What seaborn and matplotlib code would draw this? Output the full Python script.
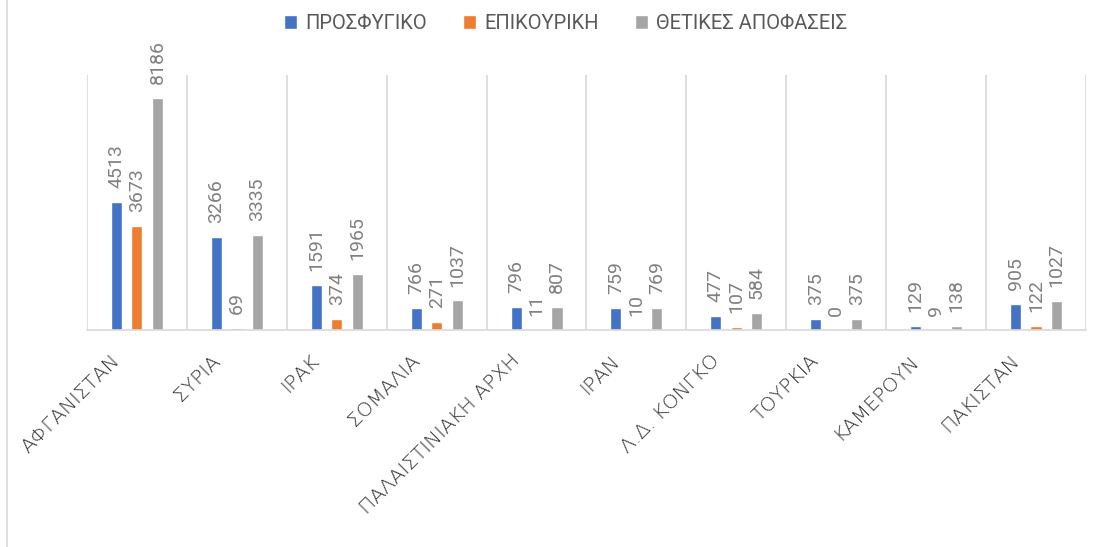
import matplotlib
matplotlib.use("Agg")
import matplotlib.pyplot as plt
from matplotlib.lines import Line2D
from matplotlib.transforms import ScaledTranslation
import seaborn as sns
import pandas as pd

countries = ["ΑΦΓΑΝΙΣΤΑΝ", "ΣΥΡΙΑ", "ΙΡΑΚ", "ΣΟΜΑΛΙΑ", "ΠΑΛΑΙΣΤΙΝΙΑΚΗ ΑΡΧΗ",
             "ΙΡΑΝ", "Λ.Δ. ΚΟΝΓΚΟ", "ΤΟΥΡΚΙΑ", "ΚΑΜΕΡΟΥΝ", "ΠΑΚΙΣΤΑΝ"]
series_names = ["ΠΡΟΣΦΥΓΙΚΟ", "ΕΠΙΚΟΥΡΙΚΗ", "ΘΕΤΙΚΕΣ ΑΠΟΦΑΣΕΙΣ"]
prosfygiko = [4513, 3266, 1591, 766, 796, 759, 477, 375, 129, 905]
epikouriki = [3673, 69, 374, 271, 11, 10, 107, 0, 9, 122]
thetikes = [8186, 3335, 1965, 1037, 807, 769, 584, 375, 138, 1027]
colors = ["#4472C4", "#ED7D31", "#A5A5A5"]

sns.set_style("white")
plt.rcParams['font.family'] = ['Roboto', 'DejaVu Sans']

df = pd.DataFrame({
    "country": countries * 3,
    "series": [series_names[0]] * 10 + [series_names[1]] * 10 + [series_names[2]] * 10,
    "value": prosfygiko + epikouriki + thetikes,
})

fig = plt.figure(figsize=(11.07, 5.47), dpi=100)
ax = fig.add_axes([0.0786, 0.397, 0.9024, 0.466])

sns.barplot(data=df, x="country", y="value", hue="series", order=countries,
            hue_order=series_names, palette=dict(zip(series_names, colors)),
            saturation=1, width=0.615, gap=0.46, errorbar=None, ax=ax)

for c in ax.containers:
    ax.bar_label(c, rotation=90, padding=10, color="#808080", fontsize=14)

ax.set_ylim(0, 9000)
ax.set_xlim(-0.5, len(countries) - 0.5)
ax.set_yticks([])
ax.set_xlabel("")
ax.set_ylabel("")
for s in ["top", "left", "right"]:
    ax.spines[s].set_visible(False)
ax.spines["bottom"].set_color("#D9D9D9")
ax.spines["bottom"].set_linewidth(1.2)

# category separators
ax.set_xticks([i - 0.5 for i in range(len(countries) + 1)], minor=True)
ax.grid(True, which="minor", axis="x", color="#D9D9D9", linewidth=1.2)
ax.tick_params(axis="x", which="both", length=0, pad=20)
ax.set_xticks(range(len(countries)))
ax.set_xticklabels(countries, rotation=45, ha="right", va="center",
                   rotation_mode="anchor", fontsize=14.5, color="#333333",
                   fontfamily="DejaVu Sans", fontweight="light")
shift = ScaledTranslation(-20 / 100, 0, fig.dpi_scale_trans)
for lbl in ax.get_xticklabels():
    lbl.set_transform(lbl.get_transform() + shift)

handles, labels = ax.get_legend_handles_labels()
ax.legend(handles, labels, loc="center", bbox_to_anchor=(0.511, 0.957),
          bbox_transform=fig.transFigure, ncol=3, frameon=False,
          handlelength=0.65, handleheight=0.65, handletextpad=0.4,
          columnspacing=1.8, fontsize=14.5, labelcolor="#595959")

fig.add_artist(Line2D([7 / 1107, 7 / 1107], [0, 1], color="#D9D9D9",
                      linewidth=1.2, transform=fig.transFigure))

fig.savefig("out.png", dpi=100)
